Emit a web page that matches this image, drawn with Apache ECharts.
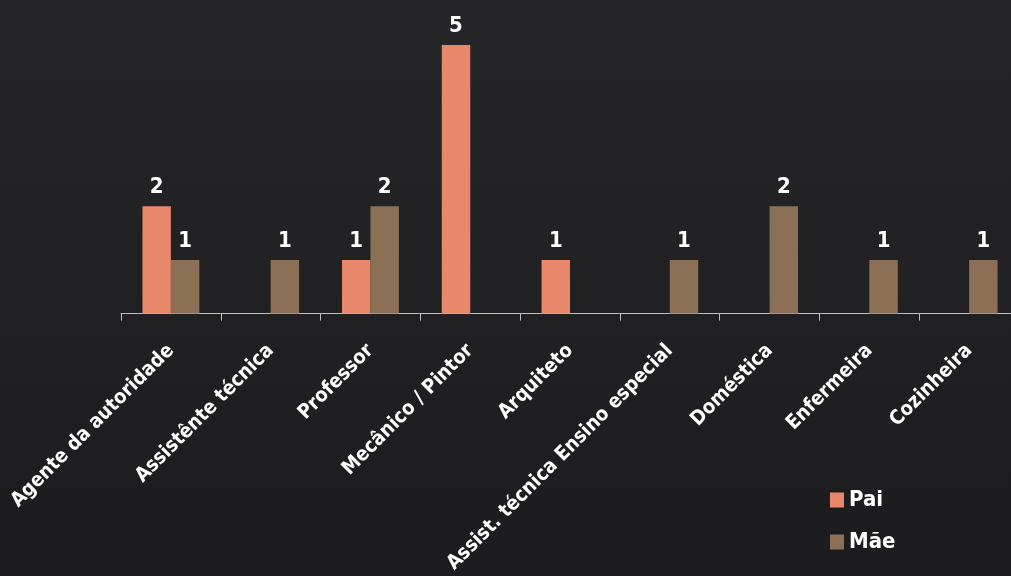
<!DOCTYPE html>
<html>
<head>
<meta charset="utf-8">
<script src="https://cdn.jsdelivr.net/npm/echarts@6/dist/echarts.min.js"></script>
<style>
  html, body { margin: 0; padding: 0; background: #1f1f21; width: 1011px; height: 576px; overflow: hidden; }
  /* the last category runs slightly past the right edge, so the frame clips it */
  #frame { position: relative; width: 1011px; height: 576px; overflow: hidden; }
  #chart { position: absolute; left: 0; top: 0; width: 1020px; height: 576px; }
</style>
</head>
<body>
<div id="frame"><div id="chart"></div></div>
<script>
// Profissões dos pais e das mães
const categories = [
  'Agente da autoridade',
  'Assistênte técnica',
  'Professor',
  'Mecânico / Pintor',
  'Arquiteto',
  'Assist. técnica Ensino especial',
  'Doméstica',
  'Enfermeira',
  'Cozinheira'
];
const paiValues = [2, null, 1, 5, 1, null, null, null, null];
const maeValues = [1, 1, 2, null, null, 1, 2, 1, 1];

const FONT = "'Liberation Sans Narrow', 'DejaVu Sans Condensed', 'Roboto', sans-serif";
const PAI_COLOR = '#e8876a';
const MAE_COLOR = '#8b7056';

const chart = echarts.init(document.getElementById('chart'), null, { renderer: 'canvas' });

const valueLabel = {
  show: true,
  position: 'top',
  distance: 8,
  color: '#ffffff',
  fontFamily: FONT,
  fontWeight: 'bold',
  fontSize: 22
};

chart.setOption({
  backgroundColor: {
    type: 'linear', x: 0, y: 0, x2: 0, y2: 1,
    colorStops: [
      { offset: 0, color: '#262628' },
      { offset: 1, color: '#1c1c1e' }
    ]
  },
  animation: false,
  grid: { left: 121, top: 45, width: 898, height: 271, containLabel: false },
  legend: {
    orient: 'vertical',
    left: 825,
    top: 484,
    itemWidth: 14,
    itemHeight: 15,
    itemGap: 20,
    icon: 'rect',
    textStyle: { color: '#ffffff', fontFamily: FONT, fontWeight: 'bold', fontSize: 22 },
    data: ['Pai', 'Mãe']
  },
  xAxis: {
    type: 'category',
    data: categories,
    axisLine: { lineStyle: { color: '#bfbfbf', width: 1 } },
    axisTick: { show: true, length: 7, lineStyle: { color: '#bfbfbf' } },
    axisLabel: {
      interval: 0,
      rotate: 45,
      margin: 34,
      color: '#ffffff',
      fontFamily: FONT,
      fontWeight: 'bold',
      fontSize: 20
    }
  },
  yAxis: {
    type: 'value',
    min: 0,
    max: 5,
    show: false,
    splitLine: { show: false }
  },
  series: [
    {
      name: 'Pai',
      type: 'bar',
      data: paiValues,
      itemStyle: { color: PAI_COLOR },
      barGap: '0%',
      barCategoryGap: '43%',
      label: valueLabel
    },
    {
      name: 'Mãe',
      type: 'bar',
      data: maeValues,
      itemStyle: { color: MAE_COLOR },
      label: valueLabel
    }
  ]
});
</script>
</body>
</html>
